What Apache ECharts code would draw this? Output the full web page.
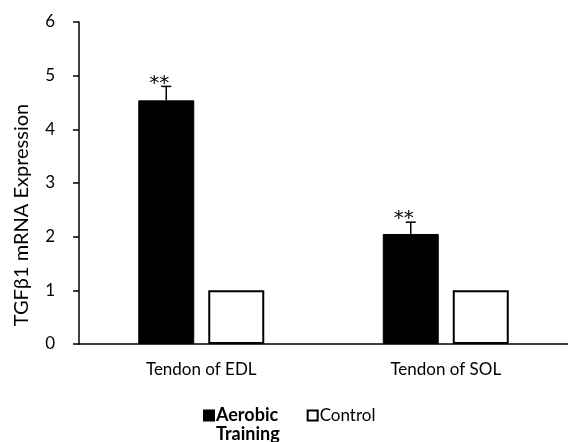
<!DOCTYPE html>
<html><head><meta charset="utf-8">
<script src="https://cdn.jsdelivr.net/npm/echarts@6/dist/echarts.min.js"></script>
<style>html,body{margin:0;padding:0;background:#fff}#c{width:568px;height:442px}</style>
</head><body><div id="c"></div>
<script>
const categories = ['Tendon of EDL', 'Tendon of SOL'];
const aerobic = [4.54, 2.05];
const aerobicErr = [0.26, 0.22];
const control = [1, 1];
const controlErr = [0, 0];
const significance = ['**', '**'];
const yTicks = [0, 1, 2, 3, 4, 5, 6];
const yTitle = 'TGFβ1 mRNA Expression';

const FONT = 'Lato';
const BAR_W = 56, GAP = 14;
const chart = echarts.init(document.getElementById('c'));

function errSeries(vals, errs, offset, marks) {
  return {
    type: 'custom', z: 10, silent: true,
    data: vals.map((v, i) => [i, v, errs[i]]),
    renderItem: function (params, api) {
      const i = api.value(0), v = api.value(1), e = api.value(2);
      const base = api.coord([i, v]);
      const top = api.coord([i, v + e]);
      const x = base[0] + offset;
      const children = [];
      if (e > 0) {
        children.push({ type: 'line', shape: { x1: x, y1: base[1], x2: x, y2: top[1] }, style: { stroke: '#000', lineWidth: 1.5 } });
        children.push({ type: 'line', shape: { x1: x - 5, y1: top[1], x2: x + 5, y2: top[1] }, style: { stroke: '#000', lineWidth: 1.5 } });
      }
      const m = marks ? marks[i] : '';
      if (m) {
        children.push({ type: 'text', x: x - 7, y: top[1] + 7, style: { text: m, fill: '#000', font: '20px "DejaVu Sans"', align: 'center', verticalAlign: 'bottom' } });
      }
      return { type: 'group', children: children };
    }
  };
}

chart.setOption({
  animation: false,
  textStyle: { fontFamily: FONT },
  grid: { left: 79, right: -3, top: 22, bottom: 98, containLabel: false },
  graphic: [{
    type: 'text', x: 22, y: 215, rotation: Math.PI / 2,
    style: { text: yTitle, fill: '#000', font: '20px ' + FONT, align: 'center', verticalAlign: 'middle' }
  }],
  xAxis: {
    type: 'category', data: categories,
    axisLine: { lineStyle: { color: '#000', width: 1.5 } },
    axisTick: { show: false },
    axisLabel: { color: '#000', fontSize: 17, margin: 17, fontFamily: FONT }
  },
  yAxis: {
    type: 'value', min: yTicks[0], max: yTicks[yTicks.length - 1], interval: 1,
    axisLine: { show: true, lineStyle: { color: '#000', width: 1.5 } },
    axisTick: { show: true, inside: false, length: 6, lineStyle: { color: '#000', width: 1.5 } },
    axisLabel: { color: '#000', fontSize: 17, margin: 24, fontFamily: FONT },
    splitLine: { show: false }
  },
  legend: {
    top: 387, left: 203, padding: 0, itemGap: 27, itemWidth: 10, itemHeight: 10,
    icon: 'rect', align: 'left',
    textStyle: { color: '#000', fontSize: 17, fontFamily: FONT,
      rich: { b: { fontWeight: 'bold', fontSize: 18, fontFamily: FONT, lineHeight: 19, color: '#000' } } },
    formatter: function (n) { return n === 'Aerobic Training' ? '{b|Aerobic}\n{b|Training}' : n; },
    data: [
      { name: 'Aerobic Training', textStyle: { padding: [19, 0, 0, -3] } },
      { name: 'Control', textStyle: { padding: [19, 0, 19, -3], lineHeight: 19 } }
    ]
  },
  series: [
    { name: 'Aerobic Training', type: 'bar', data: aerobic, barWidth: BAR_W, barGap: (GAP / BAR_W * 100) + '%',
      itemStyle: { color: '#000', borderColor: '#000', borderWidth: 1 } },
    { name: 'Control', type: 'bar', data: control, barWidth: BAR_W,
      itemStyle: { color: '#fff', borderColor: '#000', borderWidth: 2 } },
    errSeries(aerobic, aerobicErr, -(BAR_W + GAP) / 2, significance),
    errSeries(control, controlErr, (BAR_W + GAP) / 2, null)
  ]
});
</script></body></html>
